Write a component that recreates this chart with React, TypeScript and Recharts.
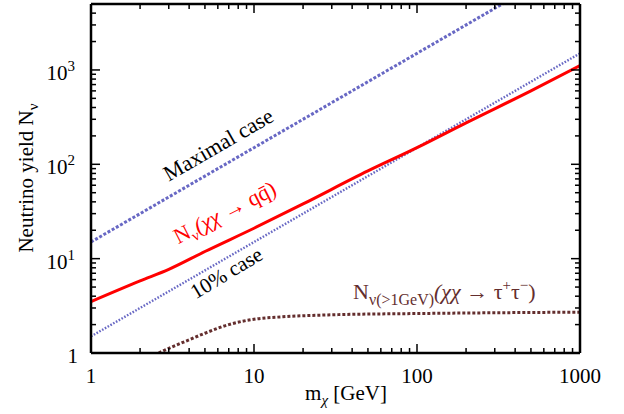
import React from "react";
import { LineChart, Line, XAxis, YAxis } from "recharts";

// ---- data ----
const xTicks = [1, 2, 3, 4, 5, 6, 7, 8, 9, 10, 20, 30, 40, 50, 60, 70, 80, 90, 100, 200, 300, 400, 500, 600, 700, 800, 900, 1000];
const xMajor = [1, 10, 100, 1000];
const yTicks = [1, 2, 3, 4, 5, 6, 7, 8, 9, 10, 20, 30, 40, 50, 60, 70, 80, 90, 100, 200, 300, 400, 500, 600, 700, 800, 900, 1000, 2000, 3000, 4000, 5000];
const yMajor = [1, 10, 100, 1000];
const yMajorExp = ["", "1", "2", "3"];

const maximalMass = [1, 10, 100, 1000];
const maximalYield = [15, 150, 1500, 15000];
const tenPctMass = [1, 10, 100, 1000];
const tenPctYield = [1.5, 15, 150, 1500];
const qqMass = [1, 2, 3, 5, 10, 20, 50, 100, 200, 500, 1000];
const qqYield = [3.5, 5.8, 7.7, 11.9, 21, 38, 85, 150, 275, 600, 1110];
const tauMass = [2.6, 3, 4, 5, 7, 10, 15, 30, 100, 300, 1000];
const tauYield = [1.0, 1.12, 1.38, 1.62, 2.0, 2.28, 2.42, 2.54, 2.62, 2.67, 2.71];

const zip = (xs: number[], ys: number[]) => xs.map((x, i) => ({ x, y: ys[i] }));
const maximalData = zip(maximalMass, maximalYield);
const tenPctData = zip(tenPctMass, tenPctYield);
const qqData = zip(qqMass, qqYield);
const tauData = zip(tauMass, tauYield);

const FONT = "'Liberation Serif', 'Times New Roman', serif";
const BLUE = "#6868c4";
const BROWN = "#642e2e";
const MAJ = 9;
const MIN = 5;

const BottomTick = (p: any) => {
  const v = p.payload.value;
  const major = xMajor.includes(v);
  return (
    <g>
      <line x1={p.x} x2={p.x} y1={p.y} y2={p.y - (major ? MAJ : MIN)} stroke="#000" strokeWidth={1.5} />
      {major && (
        <text x={p.x} y={p.y + 30} textAnchor="middle" fontSize={21} fontFamily={FONT} fill="#000">
          {v}
        </text>
      )}
    </g>
  );
};
const TopTick = (p: any) => {
  const v = p.payload.value;
  const major = xMajor.includes(v);
  return <line x1={p.x} x2={p.x} y1={p.y} y2={p.y + (major ? MAJ : MIN)} stroke="#000" strokeWidth={1.5} />;
};
const LeftTick = (p: any) => {
  const v = p.payload.value;
  const idx = yMajor.indexOf(v);
  const major = idx >= 0;
  return (
    <g>
      <line x1={p.x} x2={p.x + (major ? MAJ : MIN)} y1={p.y} y2={p.y} stroke="#000" strokeWidth={1.5} />
      {major && (
        <text x={idx === 0 ? 78 : 75} y={p.y + 10} textAnchor="end" fontSize={21} fontFamily={FONT} fill="#000">
          {idx === 0 ? "1" : "10"}
          {idx > 0 && (
            <tspan dy={-9} fontSize={15}>
              {yMajorExp[idx]}
            </tspan>
          )}
        </text>
      )}
    </g>
  );
};
const RightTick = (p: any) => {
  const v = p.payload.value;
  const major = yMajor.includes(v);
  return <line x1={p.x} x2={p.x - (major ? MAJ : MIN)} y1={p.y} y2={p.y} stroke="#000" strokeWidth={1.5} />;
};

const axisLine = { stroke: "#000", strokeWidth: 2.5 };

export default function App() {
  return (
    <div style={{ position: "absolute", left: 0, top: 0, width: 624, height: 414, background: "#fff" }}>
      <LineChart width={624} height={414} margin={{ top: 0, right: 0, bottom: 0, left: 0 }}>
        <XAxis
          xAxisId="b"
          dataKey="x"
          type="number"
          scale="log"
          domain={[1, 1000]}
          allowDataOverflow
          ticks={xTicks}
          interval={0}
          height={61}
          tickSize={0}
          tickMargin={0}
          tickLine={false}
          axisLine={axisLine}
          tick={<BottomTick />}
        />
        <XAxis
          xAxisId="t"
          orientation="top"
          dataKey="x"
          type="number"
          scale="log"
          domain={[1, 1000]}
          allowDataOverflow
          ticks={xTicks}
          interval={0}
          height={4}
          tickSize={0}
          tickMargin={0}
          tickLine={false}
          axisLine={axisLine}
          tick={<TopTick />}
        />
        <YAxis
          yAxisId="l"
          type="number"
          scale="log"
          domain={[1, 5000]}
          allowDataOverflow
          ticks={yTicks}
          interval={0}
          width={91}
          tickSize={0}
          tickMargin={0}
          tickLine={false}
          axisLine={axisLine}
          tick={<LeftTick />}
        />
        <YAxis
          yAxisId="r"
          orientation="right"
          type="number"
          scale="log"
          domain={[1, 5000]}
          allowDataOverflow
          ticks={yTicks}
          interval={0}
          width={44}
          tickSize={0}
          tickMargin={0}
          tickLine={false}
          axisLine={axisLine}
          tick={<RightTick />}
        />
        <Line xAxisId="b" yAxisId="l" data={maximalData} dataKey="y" stroke={BLUE} strokeWidth={3} strokeDasharray="3 1.8" dot={false} isAnimationActive={false} />
        <Line xAxisId="b" yAxisId="l" data={tenPctData} dataKey="y" stroke={BLUE} strokeWidth={2.4} strokeDasharray="1.6 1.6" dot={false} isAnimationActive={false} />
        <Line xAxisId="b" yAxisId="l" data={qqData} dataKey="y" type="monotone" stroke="#ff0000" strokeWidth={3} dot={false} isAnimationActive={false} />
        <Line xAxisId="b" yAxisId="l" data={tauData} dataKey="y" type="monotone" stroke={BROWN} strokeWidth={3} strokeDasharray="3 2" dot={false} isAnimationActive={false} />
      </LineChart>
      <svg width={624} height={414} style={{ position: "absolute", left: 0, top: 0, pointerEvents: "none" }} fontFamily={FONT}>
        <text transform="translate(33,178) rotate(-90)" textAnchor="middle" fontSize={21} fill="#000">
          Neutrino yield N<tspan dy={5} fontSize={15}>ν</tspan>
        </text>
        <text x={346} y={400} textAnchor="middle" fontSize={21} fill="#000">
          m<tspan dy={5} fontSize={15} fontStyle="italic">χ</tspan>
          <tspan dy={-5}> [GeV]</tspan>
        </text>
        <text transform="translate(222,151) rotate(-30)" textAnchor="middle" fontSize={22} fill="#000">
          Maximal case
        </text>
        <text transform="translate(230,279) rotate(-31)" textAnchor="middle" fontSize={21} fill="#000">
          10% case
        </text>
        <text transform="translate(228,219) rotate(-27)" textAnchor="middle" fontSize={22} fill="#ff0000">
          N<tspan dy={5} fontSize={15}>ν</tspan>
          <tspan dy={-5} fontStyle="italic">(χχ</tspan>
          <tspan> → qq̄)</tspan>
        </text>
        <text x={353} y={299} textAnchor="start" fontSize={22} fill={BROWN}>
          N<tspan dy={6} fontSize={16}>ν(&gt;1GeV)</tspan>
          <tspan dy={-6} fontStyle="italic">(χχ</tspan>
          <tspan> → τ</tspan>
          <tspan dy={-9} fontSize={15}>+</tspan>
          <tspan dy={9}>τ</tspan>
          <tspan dy={-9} fontSize={15}>−</tspan>
          <tspan dy={9}>)</tspan>
        </text>
      </svg>
    </div>
  );
}
